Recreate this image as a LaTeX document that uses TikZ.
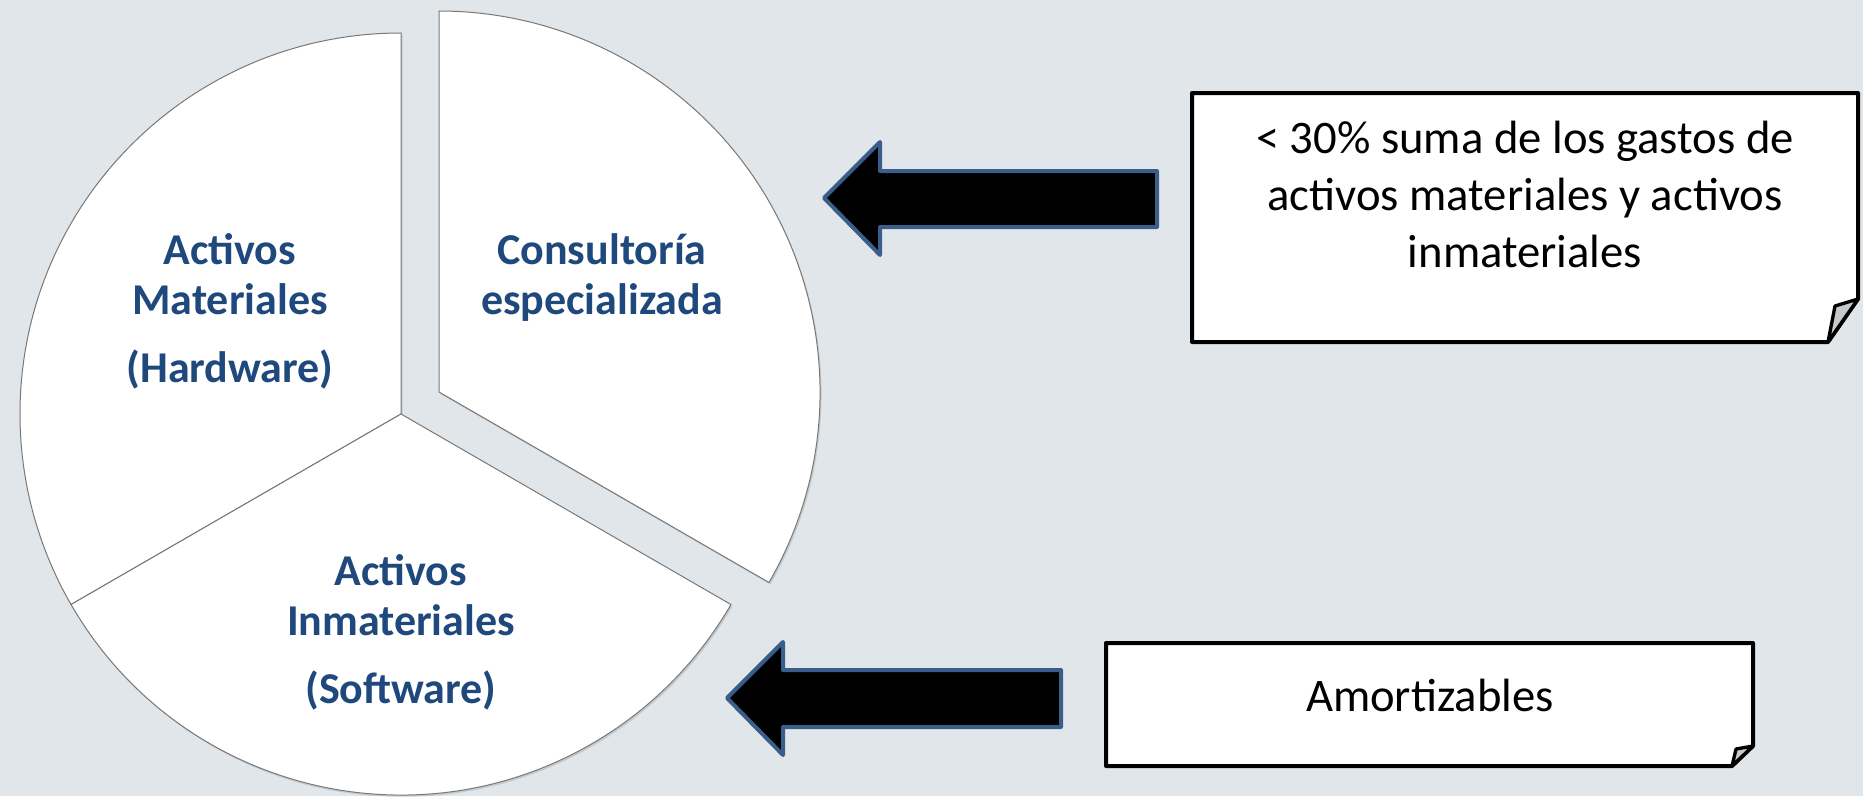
\documentclass[tikz,border=0pt]{standalone}
\usepackage{fontspec}
\setmainfont{Carlito}
\definecolor{fondo}{RGB}{225,230,234}
\definecolor{azultexto}{RGB}{31,73,125}
\definecolor{bordeflecha}{RGB}{58,94,138}
\definecolor{pliegue}{RGB}{200,200,200}
\tikzset{
  rebanada/.style={fill=white, draw={rgb,255:red,120;green,120;blue,120}, line width=0.75},
  sombra/.style={fill=black, fill opacity=0.12, draw=none},
  etiqueta/.style={anchor=base, align=center, text=azultexto, inner sep=0pt, font=\fontsize{33}{37.5}\selectfont\bfseries},
  flecha/.style={fill=black, draw=bordeflecha, line width=3, line join=round},
  nota/.style={fill=white, draw=black, line width=3, line join=round},
  notatexto/.style={anchor=base, align=center, inner sep=0pt, font=\fontsize{35}{42.75}\selectfont},
}
\begin{document}
\begin{tikzpicture}[x=0.75pt,y=0.75pt,yscale=-1,xscale=1]
%background
\fill [fondo] (0,0) rectangle (1863,796);
\useasboundingbox (0,0) rectangle (1863,796);

\coordinate (o) at (401,414);
\coordinate (oc) at (439,392);

%Shadows
\fill [sombra] ([shift={(1.5,2)}]o) -- ++(-90:381) arc[start angle=-90, end angle=-330, radius=381] -- cycle;
\fill [sombra] ([shift={(1.5,2)}]oc) -- ++(30:381) arc[start angle=30, end angle=-90, radius=381] -- cycle;
%Pie slice: materiales
\draw [rebanada] (o) -- ++(-90:381) arc[start angle=-90, end angle=-210, radius=381] -- cycle;
%Pie slice: inmateriales
\draw [rebanada] (o) -- ++(-210:381) arc[start angle=-210, end angle=-330, radius=381] -- cycle;
%Pie slice: consultoria (exploded)
\draw [rebanada] (oc) -- ++(30:381) arc[start angle=30, end angle=-90, radius=381] -- cycle;

%Shape: Left Arrow (top)
\draw [flecha] (824,198) -- (880,142) -- (880,171) -- (1157,171) -- (1157,227) -- (880,227) -- (880,255) -- cycle;
%Shape: Left Arrow (bottom)
\draw [flecha] (727,698) -- (783,642) -- (783,670) -- (1061,670) -- (1061,727) -- (783,727) -- (783,755) -- cycle;

%Shape: Folded Corner (top)
\draw [nota] (1192,93) -- (1858,93) -- (1858,299) -- (1828,342) -- (1192,342) -- cycle;
\draw [nota, fill=pliegue, line width=2.5] (1828,342) -- (1835,306) -- (1858,299) -- cycle;
%Shape: Folded Corner (bottom)
\draw [nota] (1106,643) -- (1753,643) -- (1753,746) -- (1732,766) -- (1106,766) -- cycle;
\draw [nota, fill=pliegue, line width=2.5] (1732,766) -- (1736,749) -- (1753,746) -- cycle;

% Text Node
\node [etiqueta] (hardware) at (230,382) {Activos\\Materiales\\[13.5pt](Hardware)};
% Text Node
\node [etiqueta] (consultoria) at (602,314) {Consultoría\\especializada};
% Text Node
\node [etiqueta] (software) at (401,703) {Activos\\Inmateriales\\[13.5pt](Software)};
% Text Node
\node [notatexto] (limite) at (1525,267) {< 30\% suma de los gastos de\\activos materiales y activos\\inmateriales};
% Text Node
\node [notatexto] (amortizables) at (1430,711) {Amortizables};

\end{tikzpicture}
\end{document}
